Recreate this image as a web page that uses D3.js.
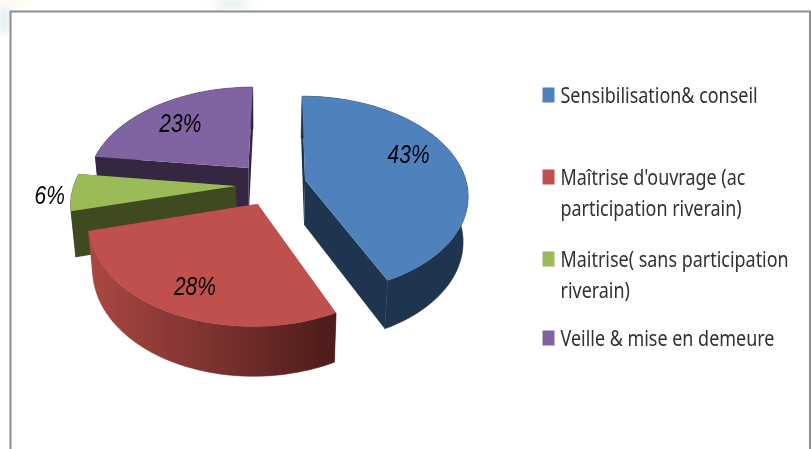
<!DOCTYPE html>
<html><head><meta charset="utf-8">
<script src="https://d3js.org/d3.v7.min.js"></script>
<style>html,body{margin:0;padding:0;background:#fff}svg{display:block}</style>
</head><body><svg id="c" width="811" height="449"></svg>
<script>
const categories = ["Sensibilisation& conseil","Maîtrise d'ouvrage (ac participation riverain)","Maitrise( sans participation riverain)","Veille & mise en demeure"];
const values = [43,28,6,23];
const legendLines = [["Sensibilisation& conseil"],["Maîtrise d'ouvrage (ac","participation riverain)"],["Maitrise( sans participation","riverain)"],["Veille & mise en demeure"]];
const topColors = ["#4f81bd","#c0504d","#9bbb59","#8064a2"];
const sideColors = ["#1f344f","url(#redSide)","#404a21","#352641"];
const explodeX = [0.242,-0.048,-0.185,-0.114];
const explodeY = [0.052,-0.19,-0.01,0.178];
const labelRadius = [0.72,0.787,1.13,0.69];
const labelTurn = [-8,-1.4,-2,-2.5];
const legendBaselines = [[103],[185,216],[267,298],[346]];

const svg = d3.select("#c");
const defs = svg.append("defs");
const grad = defs.append("linearGradient").attr("id","redSide").attr("gradientUnits","userSpaceOnUse")
  .attr("x1",88).attr("x2",334).attr("y1",0).attr("y2",0);
grad.append("stop").attr("offset",0).attr("stop-color","#ab4843");
grad.append("stop").attr("offset",1).attr("stop-color","#4d1c1b");
defs.append("filter").attr("id","soft").append("feGaussianBlur").attr("stdDeviation",0.35);
defs.append("filter").attr("id","haze").append("feGaussianBlur").attr("stdDeviation",5);

// pale backdrop smudges outside the frame
const haze = svg.append("g").attr("filter","url(#haze)");
haze.append("ellipse").attr("cx",4).attr("cy",20).attr("rx",7).attr("ry",14).attr("fill","#e3eef0");
haze.append("ellipse").attr("cx",15).attr("cy",2).attr("rx",14).attr("ry",3).attr("fill","#fbf8e6");
haze.append("ellipse").attr("cx",232).attr("cy",4).attr("rx",18).attr("ry",4).attr("fill","#dcebe8");

// frame
svg.append("path").attr("d","M10.5,449V11.5H810V449").attr("fill","#fff").attr("stroke","#8e8e8e").attr("stroke-width",2);

// projection: a true perspective on the pie's disk plane
const cx = 266, cy = 185, rx = 162, ry = 97.75, persp = 0.15, depth = 45, shrink = 0.975, vanish = 16;
const sx = d3.scaleLinear().domain([-1,1]).range([-rx,rx]);
const sy = d3.scaleLinear().domain([-1,1]).range([ry,-ry]);
const proj = (X,Y)=>{const s=1/(1+persp*Y);return [cx+sx(X)*s+vanish*(1-s),cy+sy(Y)*s,s];};
const low = p=>[cx+(p[0]-cx)*shrink,p[1]+depth*Math.sqrt(p[2])];
const line = d3.line();

const pie = d3.pie().sort(null).startAngle(0).endAngle(2*Math.PI);
const arcs = pie(values).map((d,i)=>{
  const mid=(d.startAngle+d.endAngle)/2;
  const at=(a,r)=>proj(explodeX[i]+Math.sin(a)*r,explodeY[i]+Math.cos(a)*r);
  const pts=d3.range(0,61).map(k=>at(d.startAngle+(d.endAngle-d.startAngle)*k/60,1));
  return {i,mid,at,apex:at(0,0),pts};
});

const order=[3,2,0,1];
const g=svg.append("g");
order.forEach(i=>{
  const a=arcs[i], P=a.pts, n=P.length-1;
  const wall=(u,v)=>line([u,v,low(v),low(u)])+"Z";
  const flat=i==1?"#a5453f":sideColors[i];
  g.append("path").attr("d",wall(a.apex,P[0])).attr("fill",flat);
  g.append("path").attr("d",wall(a.apex,P[n])).attr("fill",flat);
  g.append("path").attr("d",line(P.concat(P.map(low).reverse()))+"Z").attr("fill",sideColors[i]).attr("stroke",sideColors[i]).attr("stroke-width",0.6);
  g.append("path").attr("d",line([a.apex].concat(P))+"Z").attr("fill",topColors[i]);
});

// percentage labels
const labels=svg.append("g").attr("filter","url(#soft)");
arcs.forEach((a,i)=>{
  const p=a.at(a.mid+labelTurn[i]*Math.PI/180,labelRadius[i]);
  labels.append("text").attr("transform",`translate(${p[0]},${p[1]+7}) scale(.84,1)`)
    .attr("text-anchor","middle").attr("font-family","Liberation Sans").attr("font-style","italic")
    .attr("font-size",25).attr("fill","#000").text(values[i]+"%");
});

// legend
const legend=svg.append("g").attr("filter","url(#soft)");
legendLines.forEach((lines,i)=>{
  const base=legendBaselines[i];
  legend.append("rect").attr("x",542.5).attr("y",base[0]-15.5).attr("width",12).attr("height",15).attr("fill",topColors[i]);
  lines.forEach((t,j)=>{
    legend.append("text").attr("transform",`translate(560.5,${base[j]}) scale(.855,1)`)
      .attr("font-family","Noto Sans").attr("font-size",21).attr("fill","#303030").text(t);
  });
});
</script></body></html>
